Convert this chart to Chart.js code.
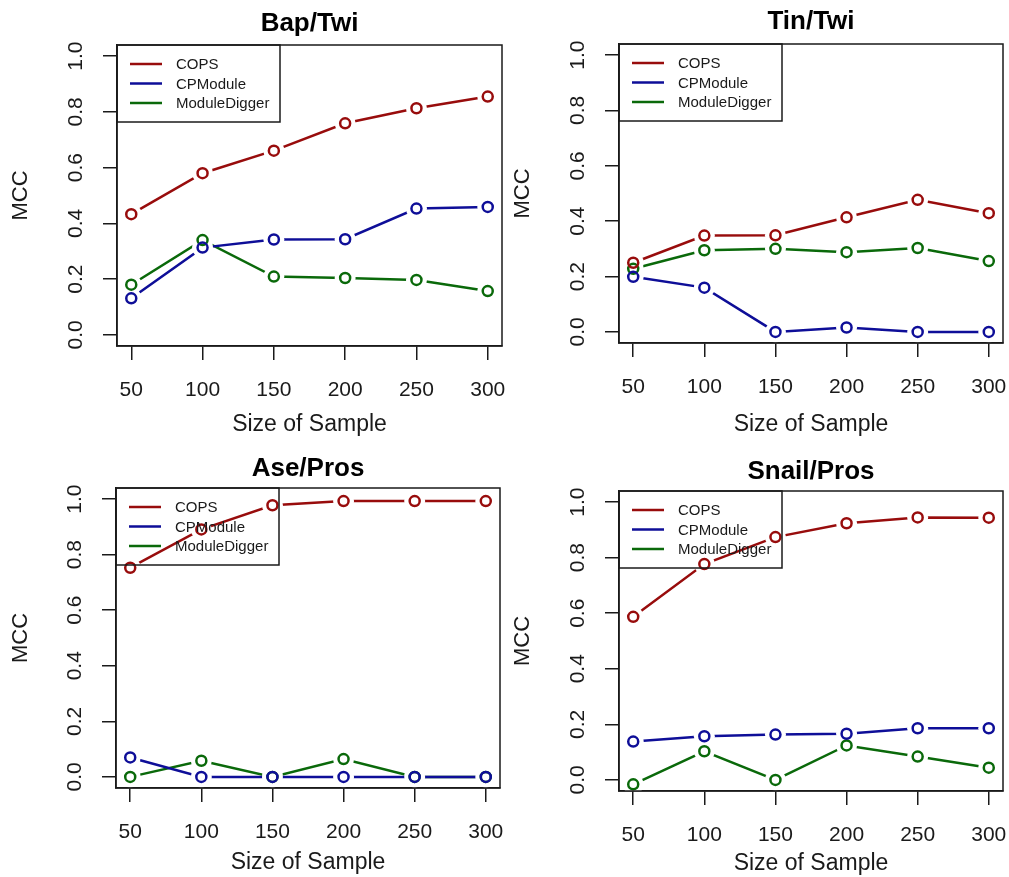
<!DOCTYPE html>
<html>
<head>
<meta charset="utf-8">
<script src="https://cdn.jsdelivr.net/npm/chart.js@4.4.1/dist/chart.umd.min.js"></script>
<style>
  body { margin: 0; background: #fff; width: 1009px; height: 877px; position: relative; overflow: hidden; }
  canvas { position: absolute; }
</style>
</head>
<body>
<canvas id="p1" width="505" height="438" style="left:0px;top:0px"></canvas>
<canvas id="p2" width="504" height="438" style="left:505px;top:0px"></canvas>
<canvas id="p3" width="505" height="439" style="left:0px;top:438px"></canvas>
<canvas id="p4" width="504" height="439" style="left:505px;top:438px"></canvas>
<script>
// data
const sampleSizes = [50, 100, 150, 200, 250, 300];
const yTicks = [0, 0.2, 0.4, 0.6, 0.8, 1.0];
const seriesNames = ['COPS', 'CPModule', 'ModuleDigger'];
const panelTitles = ['Bap/Twi', 'Tin/Twi', 'Ase/Pros', 'Snail/Pros'];

const bapCops = [0.433, 0.580, 0.661, 0.759, 0.813, 0.855];
const bapCpm  = [0.131, 0.313, 0.342, 0.343, 0.453, 0.459];
const bapMd   = [0.180, 0.340, 0.209, 0.204, 0.197, 0.157];

const tinCops = [0.250, 0.348, 0.349, 0.414, 0.477, 0.429];
const tinCpm  = [0.199, 0.160, 0.000, 0.016, 0.000, 0.000];
const tinMd   = [0.228, 0.295, 0.300, 0.288, 0.303, 0.256];

const aseCops = [0.753, 0.891, 0.978, 0.993, 0.993, 0.993];
const aseCpm  = [0.070, 0.000, 0.000, 0.000, 0.000, 0.000];
const aseMd   = [0.000, 0.058, 0.000, 0.064, 0.000, 0.000];

const snailCops = [0.587, 0.777, 0.874, 0.924, 0.945, 0.944];
const snailCpm  = [0.138, 0.157, 0.163, 0.166, 0.186, 0.186];
const snailMd   = [-0.016, 0.103, 0.000, 0.124, 0.084, 0.044];

const colors = ['#980c0c', '#0e0e98', '#0a690a'];
const ink = '#1a1a1a';
const fontFamily = '"Liberation Sans", Arial, Helvetica, sans-serif';

const decor = {
  id: 'decor',
  afterDatasetsDraw(chart, args, opts) {
    const { ctx, chartArea: a } = chart;
    ctx.save();
    // plot frame
    ctx.strokeStyle = ink;
    ctx.lineWidth = 1.5;
    ctx.strokeRect(a.left, a.top, a.right - a.left, a.bottom - a.top);
    // legend box in the top-left corner
    ctx.strokeRect(a.left, a.top, 163, 77);
    ctx.font = '15px ' + fontFamily;
    ctx.textBaseline = 'middle';
    ctx.textAlign = 'left';
    seriesNames.forEach((name, i) => {
      const y = a.top + 19 + i * 19.5;
      ctx.strokeStyle = colors[i];
      ctx.lineWidth = 2.5;
      ctx.beginPath();
      ctx.moveTo(a.left + 13, y);
      ctx.lineTo(a.left + 45, y);
      ctx.stroke();
      ctx.fillStyle = ink;
      ctx.fillText(name, a.left + 59, y + 1);
    });
    ctx.restore();
  },
  afterDraw(chart, args, opts) {
    const { ctx, chartArea: a, scales } = chart;
    ctx.save();
    ctx.fillStyle = '#000';
    ctx.textAlign = 'center';
    ctx.textBaseline = 'middle';
    ctx.font = 'bold 26px ' + fontFamily;
    ctx.fillText(opts.title, (a.left + a.right) / 2, a.top - opts.titleGap + 2);
    // y tick labels, rotated like R
    ctx.fillStyle = ink;
    ctx.font = '21px ' + fontFamily;
    yTicks.forEach(v => {
      const y = scales.y.getPixelForValue(v);
      ctx.save();
      ctx.translate(a.left - 41, y);
      ctx.rotate(-Math.PI / 2);
      ctx.fillText(v.toFixed(1), 0, 0);
      ctx.restore();
    });
    ctx.restore();
  }
};

function makePanel(id, title, cops, cpm, md, g) {
  const seriesData = [cops, cpm, md];
  const datasets = [];
  seriesData.forEach((vals, i) => {
    const pts = vals.map((v, k) => ({ x: sampleSizes[k], y: v }));
    // line with white halo points -> gaps around markers
    datasets.push({
      label: seriesNames[i],
      data: pts,
      borderColor: colors[i],
      borderWidth: 2.5,
      tension: 0,
      fill: false,
      pointRadius: 10.5,
      pointHoverRadius: 10.5,
      pointBackgroundColor: '#ffffff',
      pointBorderWidth: 0,
      order: 2,
      clip: 0
    });
    // open circles
    datasets.push({
      label: seriesNames[i] + ' points',
      data: pts,
      showLine: false,
      pointRadius: 5,
      pointHoverRadius: 5,
      pointBorderWidth: 2.5,
      pointBorderColor: colors[i],
      pointBackgroundColor: 'rgba(0,0,0,0)',
      order: 1,
      clip: 0
    });
  });

  const W = g.w, H = g.h;
  const left = g.L - g.cx, top = g.T - g.cy, right = g.cx + W - g.R, bottomArea = g.cy + H - g.B;

  new Chart(document.getElementById(id), {
    type: 'line',
    data: { datasets: datasets },
    options: {
      responsive: false,
      animation: false,
      events: [],
      layout: { autoPadding: false, padding: { left: 0, top: top, right: right, bottom: 0 } },
      plugins: {
        legend: { display: false },
        tooltip: { enabled: false },
        decor: { title: title, titleGap: g.T - g.titleY }
      },
      scales: {
        x: {
          type: 'linear',
          min: 40,
          max: 310,
          afterBuildTicks: s => { s.ticks = sampleSizes.map(v => ({ value: v })); },
          afterFit: s => { s.height = bottomArea; s.paddingLeft = 0; s.paddingRight = 0; },
          border: { display: true, color: ink, width: 1.5 },
          grid: { drawOnChartArea: false, drawTicks: true, tickLength: 14, color: ink, lineWidth: 1.5 },
          ticks: {
            color: ink, padding: 18, maxRotation: 0, minRotation: 0, autoSkip: false,
            font: { family: fontFamily, size: 21 },
            callback: v => String(v)
          },
          title: {
            display: true, text: 'Size of Sample', color: ink,
            font: { family: fontFamily, size: 23 },
            padding: { top: 0, bottom: Math.max(0, g.cy + H - g.xTitleY - 14.8) }
          }
        },
        y: {
          min: -0.04,
          max: 1.04,
          afterBuildTicks: s => { s.ticks = yTicks.map(v => ({ value: v })); },
          afterFit: s => { s.width = left; s.paddingTop = 0; s.paddingBottom = 0; },
          border: { display: true, color: ink, width: 1.5 },
          grid: { drawOnChartArea: false, drawTicks: true, tickLength: 14, color: ink, lineWidth: 1.5 },
          ticks: { display: false },
          title: {
            display: true, text: 'MCC', color: ink,
            font: { family: fontFamily, size: 22 },
            padding: { top: Math.max(0, g.mccX - g.cx - 13.2), bottom: 0 }
          }
        }
      }
    },
    plugins: [decor]
  });
}

makePanel('p1', panelTitles[0], bapCops, bapCpm, bapMd,
  { cx: 0, cy: 0, w: 505, h: 438, L: 117, T: 45, R: 502, B: 346, mccX: 21, titleY: 22, xTitleY: 425 });
makePanel('p2', panelTitles[1], tinCops, tinCpm, tinMd,
  { cx: 505, cy: 0, w: 504, h: 438, L: 619, T: 44, R: 1003, B: 343, mccX: 523, titleY: 20, xTitleY: 425 });
makePanel('p3', panelTitles[2], aseCops, aseCpm, aseMd,
  { cx: 0, cy: 438, w: 505, h: 439, L: 116, T: 488, R: 500, B: 788, mccX: 21, titleY: 467, xTitleY: 862 });
makePanel('p4', panelTitles[3], snailCops, snailCpm, snailMd,
  { cx: 505, cy: 438, w: 504, h: 439, L: 619, T: 491, R: 1003, B: 791, mccX: 523, titleY: 470, xTitleY: 863 });
</script>
</body>
</html>
